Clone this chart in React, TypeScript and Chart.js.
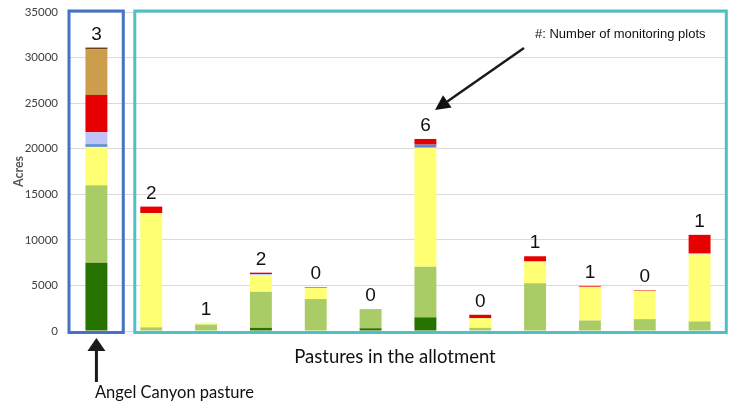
import React, { useEffect, useRef } from "react";
import { Chart, registerables } from "chart.js";

Chart.register(...registerables);

// ---- Data ----
const pastures = [
  "Angel Canyon", "Pasture 2", "Pasture 3", "Pasture 4", "Pasture 5", "Pasture 6",
  "Pasture 7", "Pasture 8", "Pasture 9", "Pasture 10", "Pasture 11", "Pasture 12",
];
const plotCounts = [3, 2, 1, 2, 0, 0, 6, 0, 1, 1, 0, 1];

const darkGreen = [7500, 0, 0, 350, 0, 300, 1500, 0, 0, 0, 0, 0];
const lightGreen = [8500, 400, 700, 3950, 3500, 2100, 5550, 350, 5250, 1150, 1300, 1050];
const yellow = [4200, 12550, 200, 1850, 1250, 0, 13050, 1050, 2300, 3700, 3100, 7350];
const blue = [300, 0, 0, 0, 0, 0, 350, 0, 0, 0, 0, 0];
const lavender = [1300, 0, 0, 100, 0, 0, 0, 0, 100, 0, 0, 100];
const red = [4100, 700, 0, 150, 80, 0, 620, 380, 550, 100, 60, 2050];
const tan = [5000, 0, 0, 0, 0, 0, 0, 0, 0, 0, 0, 0];
const brown = [200, 0, 0, 0, 0, 0, 0, 0, 0, 0, 0, 0];

const yMax = 35000;
const yStep = 5000;

const series = [
  { label: "Class 1", data: darkGreen, color: "#277300" },
  { label: "Class 2", data: lightGreen, color: "#AACC66" },
  { label: "Class 3", data: yellow, color: "#FFFF73" },
  { label: "Class 4", data: blue, color: "#5B8BD6" },
  { label: "Class 5", data: lavender, color: "#BEC3FA" },
  { label: "Class 6", data: red, color: "#E60000" },
  { label: "Class 7", data: tan, color: "#CC9E4B" },
  { label: "Class 8", data: brown, color: "#6B4314" },
];

const annotate = {
  id: "annotate",
  afterDraw(chart: any) {
    const { ctx, chartArea, scales } = chart;
    const x = scales.x;
    const y = scales.y;
    const c0 = x.getPixelForValue(0);
    const c1 = x.getPixelForValue(1);
    const w = c1 - c0;

    ctx.save();
    // plot-count labels
    ctx.font = "19px 'Liberation Sans', Arial, sans-serif";
    ctx.fillStyle = "#111111";
    ctx.textAlign = "center";
    ctx.textBaseline = "alphabetic";
    plotCounts.forEach((n, i) => {
      const total = series.reduce((s, d) => s + d.data[i], 0);
      ctx.fillText(String(n), x.getPixelForValue(i), y.getPixelForValue(total) - 8);
    });

    // boxes
    const top = chartArea.top - 1;
    const bottom = chartArea.bottom + 1.5;
    ctx.lineWidth = 3;
    ctx.strokeStyle = "#4472C4";
    const bl = chartArea.left;
    const br = c0 + 0.49 * w;
    ctx.strokeRect(bl, top, br - bl, bottom - top);
    ctx.strokeStyle = "#4FC1C6";
    const tl = c1 - 0.3 * w;
    const tr = chartArea.right - 0.7;
    ctx.strokeRect(tl, top, tr - tl, bottom - top);

    // bottom arrow to Angel Canyon
    ctx.fillStyle = "#1a1a1a";
    ctx.strokeStyle = "#1a1a1a";
    ctx.lineWidth = 3;
    const ax = c0;
    const tipY = chartArea.bottom + 7;
    ctx.beginPath();
    ctx.moveTo(ax, tipY + 10);
    ctx.lineTo(ax, tipY + 44);
    ctx.stroke();
    ctx.beginPath();
    ctx.moveTo(ax, tipY);
    ctx.lineTo(ax - 9, tipY + 13);
    ctx.lineTo(ax + 9, tipY + 13);
    ctx.closePath();
    ctx.fill();

    ctx.font = "16.5px Lato, 'Liberation Sans', sans-serif";
    ctx.textAlign = "left";
    ctx.fillStyle = "#111111";
    ctx.fillText("Angel Canyon pasture", c0 - 1.5, chartArea.bottom + 67);

    // x axis caption
    ctx.font = "18.5px Lato, 'Liberation Sans', sans-serif";
    ctx.textAlign = "center";
    ctx.fillText("Pastures in the allotment", (chartArea.left + chartArea.right) / 2 - 3, chartArea.bottom + 32);

    // top annotation
    ctx.font = "13px 'Liberation Sans', Arial, sans-serif";
    ctx.textAlign = "left";
    ctx.fillText("#: Number of monitoring plots", 535, chartArea.top + 26);
    const sx = 524, sy = chartArea.top + 36;
    const ex = 435, ey = chartArea.top + 98;
    const ang = Math.atan2(ey - sy, ex - sx);
    const hl = 15, hw = 7.5;
    const bx = ex - hl * Math.cos(ang), by = ey - hl * Math.sin(ang);
    ctx.lineWidth = 2.5;
    ctx.beginPath();
    ctx.moveTo(sx, sy);
    ctx.lineTo(bx, by);
    ctx.stroke();
    ctx.beginPath();
    ctx.moveTo(ex, ey);
    ctx.lineTo(bx + hw * Math.sin(ang), by - hw * Math.cos(ang));
    ctx.lineTo(bx - hw * Math.sin(ang), by + hw * Math.cos(ang));
    ctx.closePath();
    ctx.fill();
    ctx.restore();
  },
};

export default function App() {
  const ref = useRef<HTMLCanvasElement | null>(null);
  useEffect(() => {
    if (!ref.current) return;
    const chart = new Chart(ref.current, {
      type: "bar",
      data: {
        labels: pastures,
        datasets: series.map((s) => ({
          label: s.label,
          data: s.data,
          backgroundColor: s.color,
          borderWidth: 0,
          barPercentage: 0.8,
          categoryPercentage: 0.5,
        })),
      },
      options: {
        responsive: false,
        animation: false,
        layout: { padding: { left: 0, top: 12, right: 8, bottom: 71 } },
        plugins: { legend: { display: false }, tooltip: { enabled: false } },
        scales: {
          x: { stacked: true, display: false, grid: { display: false } },
          y: {
            stacked: true,
            min: 0,
            max: yMax,
            border: { display: false },
            grid: { color: "#DADADA", lineWidth: 1, drawTicks: false },
            ticks: {
              stepSize: yStep,
              padding: 11,
              color: "#404040",
              font: { family: "Lato, 'Liberation Sans', sans-serif", size: 11.5 },
              callback: (v: any) => String(v),
            },
            title: {
              display: true,
              text: "Acres",
              color: "#595959",
              padding: { top: 11, bottom: 0 },
              font: { family: "Lato, 'Liberation Sans', sans-serif", size: 12.5, weight: "bold" },
            },
            afterFit: (scale: any) => {
              scale.width = 69;
              scale.paddingTop = 0;
              scale.paddingBottom = 0;
            },
          },
        },
      },
      plugins: [annotate],
    });
    return () => chart.destroy();
  }, []);
  return (
    <div style={{ position: "absolute", left: 0, top: 0, width: 735, height: 402 }}>
      <canvas ref={ref} width={735} height={402} />
    </div>
  );
}
